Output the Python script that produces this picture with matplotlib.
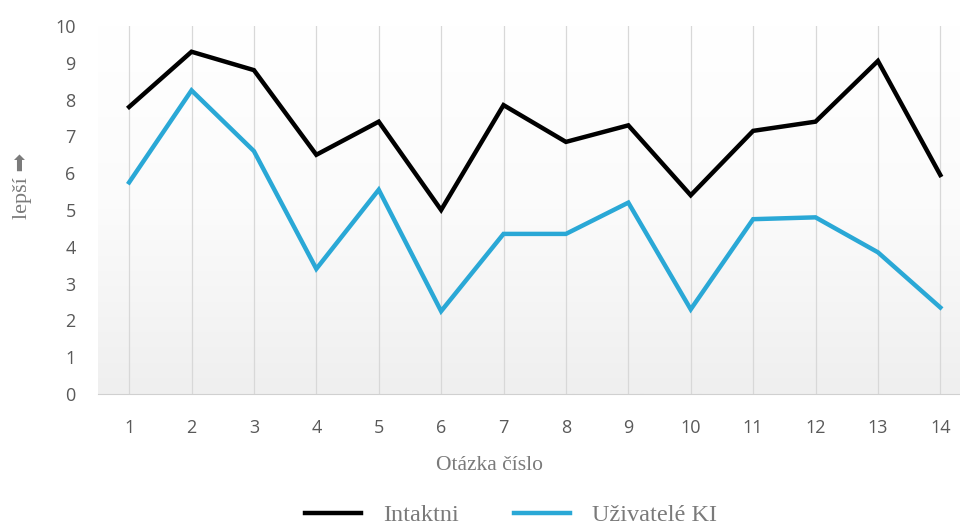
import numpy as np
import matplotlib.pyplot as plt
from matplotlib.colors import LinearSegmentedColormap

otazky = list(range(1, 15))
intaktni = [7.8, 9.3, 8.8, 6.5, 7.4, 5.0, 7.85, 6.85, 7.3, 5.4, 7.15, 7.4, 9.05, 5.95]
uzivatele_ki = [5.75, 8.25, 6.6, 3.4, 5.55, 2.25, 4.35, 4.35, 5.2, 2.3, 4.75, 4.8, 3.85, 2.35]

serif = ['Liberation Serif', 'DejaVu Sans']

fig = plt.figure(figsize=(9.6, 5.28), dpi=100)
ax = fig.add_axes([0.102, 0.2538, 0.910, 0.697])

# light vertical gradient behind the lines
fade = LinearSegmentedColormap.from_list('fade', ['#efefef', '#fbfbfb', '#ffffff'])
grad = np.linspace(0, 1, 256).reshape(-1, 1)
ax.imshow(grad, extent=[0.5, 14.5, 0, 10], aspect='auto', cmap=fade,
          origin='lower', zorder=0)

for x in otazky:
    ax.axvline(x, color='#d8d8d8', lw=0.9, zorder=1)

ax.plot(otazky, intaktni, color='black', lw=3.2, label='Intaktni',
        solid_joinstyle='miter', zorder=3)
ax.plot(otazky, uzivatele_ki, color='#2aa8d6', lw=3.2, label='Uživatelé KI',
        solid_joinstyle='miter', zorder=3)

ax.set_xlim(0.5, 14.5)
ax.set_ylim(0, 10)
ax.set_xticks(otazky)
ax.set_yticks(range(0, 11))
ax.tick_params(length=0, labelsize=13, labelcolor='#595959')
ax.tick_params(axis='x', pad=18)
ax.tick_params(axis='y', pad=16)
for t in ax.get_xticklabels() + ax.get_yticklabels():
    t.set_family('Open Sans')
for s in ['top', 'right', 'left']:
    ax.spines[s].set_visible(False)
ax.spines['bottom'].set_color('#d0d0d0')

fig.text(22 / 960, 1 - 186 / 528, 'lepší ➡', rotation=90, ha='center', va='center',
         fontsize=16, color='#7a7a7a', family=serif)
fig.text(490 / 960, 1 - 465 / 528, 'Otázka číslo', ha='center', va='center',
         fontsize=15.5, color='#7a7a7a', family=serif)

leg = fig.legend(loc='center', bbox_to_anchor=(511 / 960, 1 - 515 / 528), ncol=2,
                 frameon=False, handlelength=2.3, columnspacing=2.3,
                 handletextpad=0.9, prop={'family': serif, 'size': 17.5})
for t in leg.get_texts():
    t.set_color('#7a7a7a')

fig.savefig('out.png', dpi=100)
